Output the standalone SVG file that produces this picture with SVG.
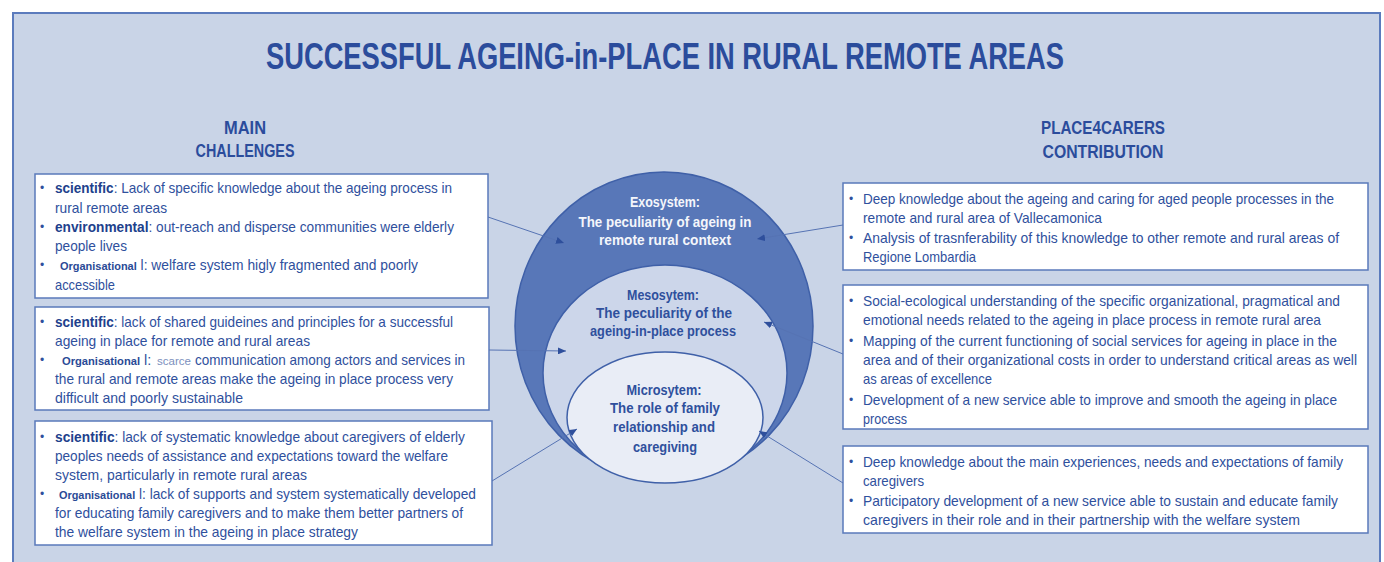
<svg xmlns="http://www.w3.org/2000/svg" width="1384" height="562" viewBox="0 0 1384 562">
<defs>
<style>
.t{font-family:"Liberation Sans",Arial,sans-serif;fill:#2f509d;font-size:14.5px}
.b{font-weight:bold;fill:#213f8c}
.org{font-weight:bold;font-size:11.5px;fill:#2a4a96}
.sc{font-size:11.5px;fill:#7c90bd}
.bul{font-family:"Liberation Sans",Arial,sans-serif;fill:#2f509d;font-size:12px}
.box{fill:#ffffff;stroke:#5a79bb;stroke-width:1.5}
.hd{font-family:"Liberation Sans",Arial,sans-serif;fill:#2b4c9c;font-weight:bold;text-anchor:middle}
.ct{font-family:"Liberation Sans",Arial,sans-serif;font-size:14.5px;text-anchor:middle;font-weight:bold}
.con{stroke:#5673b3;stroke-width:1;fill:none;marker-end:url(#ah)}
</style>
<marker id="ah" viewBox="0 0 8 7" refX="8" refY="3.5" markerWidth="8" markerHeight="7" markerUnits="userSpaceOnUse" orient="auto">
<path d="M0,0 L8,3.5 L0,7 z" fill="#2e4f9c"/>
</marker>
</defs>
<rect x="0" y="0" width="1384" height="562" fill="#ffffff"/>
<rect id="frame" x="13" y="13" width="1367" height="600" fill="#c9d4e7" stroke="#5b7bbd" stroke-width="2"/>

<g id="title">
<text class="hd" x="665" y="69" font-size="36" textLength="798" lengthAdjust="spacingAndGlyphs">SUCCESSFUL AGEING-in-PLACE IN RURAL REMOTE AREAS</text>
</g>
<g id="header-left">
<text class="hd" x="245" y="134" font-size="18" textLength="42" lengthAdjust="spacingAndGlyphs">MAIN</text>
<text class="hd" x="245" y="157" font-size="18" textLength="99" lengthAdjust="spacingAndGlyphs">CHALLENGES</text>
</g>
<g id="header-right">
<text class="hd" x="1103" y="134" font-size="18" textLength="124" lengthAdjust="spacingAndGlyphs">PLACE4CARERS</text>
<text class="hd" x="1103" y="158" font-size="18" textLength="121" lengthAdjust="spacingAndGlyphs">CONTRIBUTION</text>
</g>

<g id="circles">
<g id="exosystem">
<ellipse cx="664" cy="326" rx="149" ry="154" fill="#5877b8" stroke="#3f60a8" stroke-width="1.5"/>
<text class="ct" fill="#f4f6fb" x="665" y="207" textLength="70" lengthAdjust="spacingAndGlyphs">Exosystem:</text>
<text class="ct" fill="#f4f6fb" x="665" y="227" textLength="173" lengthAdjust="spacingAndGlyphs">The peculiarity of ageing in</text>
<text class="ct" fill="#f4f6fb" x="665" y="245" textLength="132" lengthAdjust="spacingAndGlyphs">remote rural context</text>
</g>
<g id="mesosystem">
<ellipse cx="665" cy="373" rx="122" ry="108" fill="#ccd6ea" stroke="#3f60a8" stroke-width="1.5"/>
<text class="ct" fill="#2f509d" x="663" y="300" textLength="72" lengthAdjust="spacingAndGlyphs">Mesosytem:</text>
<text class="ct" fill="#2f509d" x="664" y="318" textLength="136" lengthAdjust="spacingAndGlyphs">The peculiarity of the</text>
<text class="ct" fill="#2f509d" x="663" y="336" textLength="146" lengthAdjust="spacingAndGlyphs">ageing-in-place process</text>
</g>
<g id="microsystem">
<ellipse cx="665" cy="417.5" rx="98" ry="65.5" fill="#e9edf6" stroke="#3f60a8" stroke-width="1.5"/>
<text class="ct" fill="#2f509d" x="664" y="395" textLength="75" lengthAdjust="spacingAndGlyphs">Microsytem:</text>
<text class="ct" fill="#2f509d" x="665" y="413" textLength="110" lengthAdjust="spacingAndGlyphs">The role of family</text>
<text class="ct" fill="#2f509d" x="664" y="432" textLength="102" lengthAdjust="spacingAndGlyphs">relationship and</text>
<text class="ct" fill="#2f509d" x="665" y="452" textLength="64" lengthAdjust="spacingAndGlyphs">caregiving</text>
</g>
</g>

<g id="box-l1">
<rect class="box" x="35" y="174" width="453" height="124"/>
<text class="bul" x="40" y="192">•</text>
<text class="bul" x="40" y="231">•</text>
<text class="bul" x="40" y="269">•</text>
<text class="t" x="55" y="193" textLength="397" lengthAdjust="spacingAndGlyphs"><tspan class="b">scientific</tspan>: Lack of specific knowledge about the ageing process in</text>
<text class="t" x="55" y="213" textLength="112" lengthAdjust="spacingAndGlyphs">rural remote areas</text>
<text class="t" x="55" y="232" textLength="399" lengthAdjust="spacingAndGlyphs"><tspan class="b">environmental</tspan>: out-reach and disperse communities were elderly</text>
<text class="t" x="55" y="251" textLength="72" lengthAdjust="spacingAndGlyphs">people lives</text>
<text class="t" x="60" y="270" textLength="358" lengthAdjust="spacingAndGlyphs"><tspan class="org">Organisational</tspan> l: welfare system higly fragmented and poorly</text>
<text class="t" x="55" y="290" textLength="60" lengthAdjust="spacingAndGlyphs">accessible</text>
</g>

<g id="box-l2">
<rect class="box" x="35" y="307" width="454" height="103"/>
<text class="bul" x="40" y="326">•</text>
<text class="bul" x="40" y="364">•</text>
<text class="t" x="55" y="327" textLength="398" lengthAdjust="spacingAndGlyphs"><tspan class="b">scientific</tspan>: lack of shared guideines and principles for a successful</text>
<text class="t" x="55" y="346" textLength="255" lengthAdjust="spacingAndGlyphs">ageing in place for remote and rural areas</text>
<text class="t org" x="62" y="365" textLength="78" lengthAdjust="spacingAndGlyphs">Organisational</text>
<text class="t" x="144" y="365">l:</text>
<text class="t sc" x="157" y="365" textLength="34" lengthAdjust="spacingAndGlyphs">scarce</text>
<text class="t" x="195" y="365" textLength="270" lengthAdjust="spacingAndGlyphs">communication among actors and services in</text>
<text class="t" x="55" y="384" textLength="398" lengthAdjust="spacingAndGlyphs">the rural and remote areas make the ageing in place process very</text>
<text class="t" x="55" y="403" textLength="188" lengthAdjust="spacingAndGlyphs">difficult and poorly sustainable</text>
</g>

<g id="box-l3">
<rect class="box" x="35" y="421" width="457" height="124"/>
<text class="bul" x="40" y="441">•</text>
<text class="bul" x="40" y="498">•</text>
<text class="t" x="55" y="442" textLength="410" lengthAdjust="spacingAndGlyphs"><tspan class="b">scientific</tspan>: lack of systematic knowledge about caregivers of elderly</text>
<text class="t" x="55" y="461" textLength="393" lengthAdjust="spacingAndGlyphs">peoples needs of assistance and expectations toward the welfare</text>
<text class="t" x="55" y="480" textLength="252" lengthAdjust="spacingAndGlyphs">system, particularly in remote rural areas</text>
<text class="t" x="59" y="499" textLength="417" lengthAdjust="spacingAndGlyphs"><tspan class="org">Organisational</tspan> l: lack of supports and system systematically developed</text>
<text class="t" x="55" y="518" textLength="408" lengthAdjust="spacingAndGlyphs">for educating family caregivers and to make them better partners of</text>
<text class="t" x="55" y="537" textLength="303" lengthAdjust="spacingAndGlyphs">the welfare system in the ageing in place strategy</text>
</g>

<g id="box-r1">
<rect class="box" x="843" y="183" width="525" height="87"/>
<text class="bul" x="849" y="203">•</text>
<text class="bul" x="849" y="242">•</text>
<text class="t" x="863" y="204" textLength="471" lengthAdjust="spacingAndGlyphs">Deep knowledge about the ageing and caring for aged people processes in the</text>
<text class="t" x="863" y="223" textLength="239" lengthAdjust="spacingAndGlyphs">remote and rural area of Vallecamonica</text>
<text class="t" x="863" y="243" textLength="476" lengthAdjust="spacingAndGlyphs">Analysis of trasnferability of this knowledge to other remote and rural areas of</text>
<text class="t" x="863" y="262" textLength="113" lengthAdjust="spacingAndGlyphs">Regione Lombardia</text>
</g>

<g id="box-r2">
<rect class="box" x="843" y="285" width="525" height="144"/>
<text class="bul" x="849" y="305">•</text>
<text class="bul" x="849" y="345">•</text>
<text class="bul" x="849" y="404">•</text>
<text class="t" x="863" y="306" textLength="477" lengthAdjust="spacingAndGlyphs">Social-ecological understanding of the specific organizational, pragmatical and</text>
<text class="t" x="863" y="325" textLength="458" lengthAdjust="spacingAndGlyphs">emotional needs related to the ageing in place process in remote rural area</text>
<text class="t" x="863" y="346" textLength="474" lengthAdjust="spacingAndGlyphs">Mapping of the current functioning of social services for ageing in place in the</text>
<text class="t" x="863" y="365" textLength="494" lengthAdjust="spacingAndGlyphs">area and of their organizational costs in order to understand critical areas as well</text>
<text class="t" x="863" y="384" textLength="129" lengthAdjust="spacingAndGlyphs">as areas of excellence</text>
<text class="t" x="863" y="405" textLength="474" lengthAdjust="spacingAndGlyphs">Development of a new service able to improve and smooth the ageing in place</text>
<text class="t" x="863" y="424" textLength="44" lengthAdjust="spacingAndGlyphs">process</text>
</g>

<g id="box-r3">
<rect class="box" x="843" y="446" width="525" height="87"/>
<text class="bul" x="849" y="466">•</text>
<text class="bul" x="849" y="505">•</text>
<text class="t" x="863" y="467" textLength="480" lengthAdjust="spacingAndGlyphs">Deep knowledge about the main experiences, needs and expectations of family</text>
<text class="t" x="863" y="486" textLength="61" lengthAdjust="spacingAndGlyphs">caregivers</text>
<text class="t" x="863" y="506" textLength="475" lengthAdjust="spacingAndGlyphs">Participatory development of a new service able to sustain and educate family</text>
<text class="t" x="863" y="525" textLength="437" lengthAdjust="spacingAndGlyphs">caregivers in their role and in their partnership with the welfare system</text>
</g>

<g id="connectors">
<line class="con" x1="488" y1="217" x2="564" y2="243"/>
<line class="con" x1="489" y1="350" x2="566" y2="351"/>
<line class="con" x1="492" y1="481" x2="577" y2="429"/>
<line class="con" x1="843" y1="225" x2="757" y2="239"/>
<line class="con" x1="843" y1="354" x2="764" y2="322"/>
<line class="con" x1="843" y1="483" x2="759" y2="431"/>
</g>
</svg>
